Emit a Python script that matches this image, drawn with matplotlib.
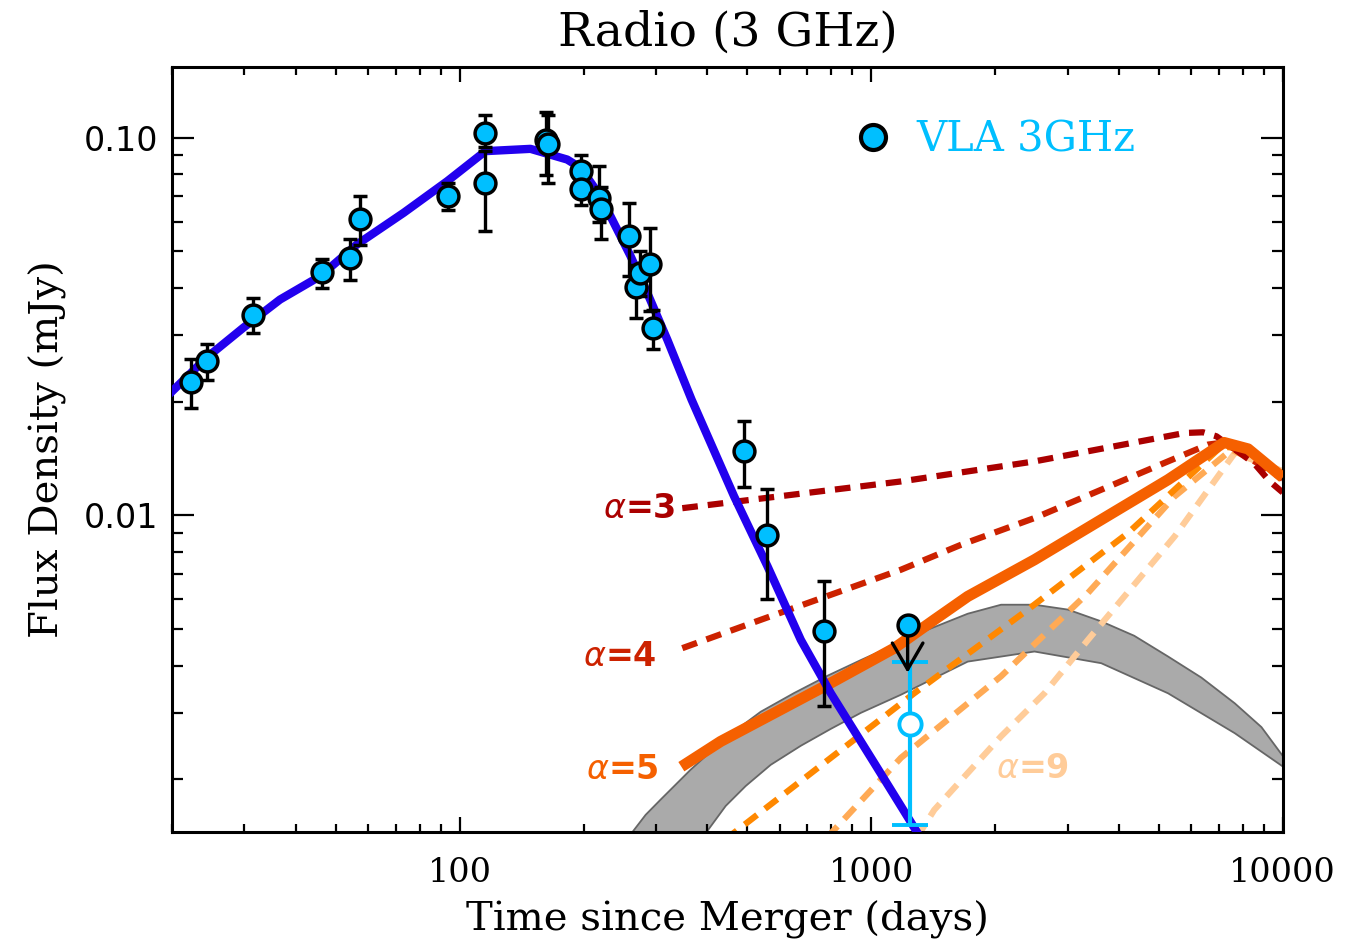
import numpy as np
import matplotlib
matplotlib.use('Agg')
import matplotlib.pyplot as plt
from matplotlib.ticker import LogLocator, NullFormatter, FuncFormatter
from matplotlib.lines import Line2D

# VLA 3 GHz meetpunten (dagen, mJy) met onder- en bovengrens van de foutbalk
t_obs = [22.3, 24.3, 31.4, 46.3, 54.2, 57.3, 93.5, 115.5, 115.5, 162, 164,
         197.2, 197.2, 217.8, 220.8, 257.6, 267.6, 274.2, 289.8, 294.9,
         491, 557, 768.6]
f_obs = [0.0225, 0.0257, 0.0340, 0.0441, 0.0481, 0.0611, 0.0700, 0.1031, 0.0757,
         0.0986, 0.0964, 0.0819, 0.0733, 0.0693, 0.0646, 0.0551, 0.0403, 0.0439,
         0.0464, 0.0313, 0.01484, 0.00889, 0.00493]
f_hi = [0.0260, 0.0285, 0.0377, 0.0479, 0.0541, 0.0700, 0.0757, 0.1148, 0.0922,
        0.1169, 0.1150, 0.0903, 0.0810, 0.0840, 0.0740, 0.0671, 0.0460, 0.0500,
        0.0577, 0.0349, 0.01773, 0.01172, 0.0067]
f_lo = [0.0193, 0.0228, 0.0304, 0.0400, 0.0421, 0.0519, 0.0643, 0.0947, 0.0566,
        0.0795, 0.0760, 0.0740, 0.0662, 0.0600, 0.0540, 0.0430, 0.0333, 0.0380,
        0.0347, 0.0276, 0.01187, 0.005995, 0.00312]

# bovengrens (pijl) en het open punt
t_ul, f_ul, f_ul_tip = 1226, 0.00511, 0.00383
t_open, f_open, f_open_lo, f_open_hi = 1240, 0.00281, 0.00151, 0.0041

# model (blauwe lijn)
t_mod = [20, 24.3, 29.8, 36.6, 45.8, 56.3, 73.1, 93.2, 115.5, 148.6, 182.5, 196.6,
         219.9, 237, 260.2, 285.8, 319.6, 366, 464.4, 559.8, 674.5, 797.7, 1017, 1297]
f_mod = [0.0213, 0.0262, 0.0314, 0.0373, 0.0430, 0.0522, 0.0633, 0.0767, 0.0922,
         0.0935, 0.0876, 0.0833, 0.0700, 0.0595, 0.0486, 0.0388, 0.0292, 0.02026,
         0.01123, 0.00733, 0.00468, 0.00338, 0.00221, 0.00144]

# alpha-curves
t_a3 = [347.5, 1181, 2493, 5776, 6400, 6900, 8504, 9299, 10000]
f_a3 = [0.01045, 0.0123, 0.0139, 0.01653, 0.0166, 0.0162, 0.01377, 0.0123, 0.0115]
t_a4 = [347.5, 539, 1181, 1653, 2493, 5262, 6584, 7200, 10000]
f_a4 = [0.00445, 0.00529, 0.00718, 0.00836, 0.00984, 0.0139, 0.0154, 0.0156, 0.0125]
t_a5 = [345.7, 430.8, 783.4, 1137.6, 1423, 1716, 2493, 3622, 5262, 7200, 8237, 10000]
f_a5 = [0.00216, 0.00252, 0.00356, 0.00445, 0.00529, 0.0061, 0.00763, 0.00974,
        0.01243, 0.0156, 0.0150, 0.0126]
t_a6 = [440, 1272, 2402, 4205, 7095, 8000, 10000]
f_a6 = [0.00138, 0.00338, 0.00563, 0.00898, 0.01524, 0.0150, 0.0128]
t_a7 = [780, 1181, 2068, 3362, 5461, 7507, 10000]
f_a7 = [0.0014, 0.00228, 0.00375, 0.00623, 0.01123, 0.01493, 0.0129]
t_a9 = [1290, 1423, 2068, 2636, 3362, 5461, 7645, 10000]
f_a9 = [0.00140, 0.00166, 0.0026, 0.00338, 0.00468, 0.0088, 0.01463, 0.0131]

# grijze band (boven- en onderrand)
t_band_hi = [250, 283, 307.8, 364, 447.3, 539, 649.4, 783, 944, 1372, 1716, 2068,
             2493, 3006, 3622, 4355, 5262, 6340, 7643, 8875, 10020]
f_band_hi = [0.00135, 0.00161, 0.001767, 0.00212, 0.002597, 0.00302, 0.003384,
             0.003761, 0.004139, 0.00498, 0.00549, 0.0058, 0.0058, 0.00563, 0.00524,
             0.0048, 0.00423, 0.00372, 0.00318, 0.00275, 0.0023]
t_band_lo = [385, 443, 495.5, 570, 674.5, 798, 944, 1181, 1716, 2493, 3622, 5262,
             7643, 10020]
f_band_lo = [0.00138, 0.0017, 0.00192, 0.002185, 0.002454, 0.002721, 0.003, 0.00335,
             0.0041, 0.00436, 0.00406, 0.00338, 0.00265, 0.00216]

lichtblauw = '#00BFFF'
serif = 'DejaVu Serif'

fig = plt.figure(figsize=(13.48, 9.44), dpi=100)
ax = fig.add_axes([0.1276, 0.1186, 0.824, 0.8104])

# band
px = t_band_hi + t_band_lo[::-1]
py = f_band_hi + f_band_lo[::-1]
ax.fill(px, py, facecolor='#AAAAAA', edgecolor='#666666', linewidth=1.3, zorder=1)

# alpha-lijnen
streep = (0, (2.5, 1.6))
ax.plot(t_a9, f_a9, ls=streep, color='#FFCC99', lw=4.5, zorder=2)
ax.plot(t_a7, f_a7, ls=streep, color='#FFAA55', lw=4.5, zorder=2)
ax.plot(t_a6, f_a6, ls=streep, color='#FF8800', lw=4.5, zorder=2)
ax.plot(t_a4, f_a4, ls=streep, color='#CC2200', lw=4.5, zorder=2)
ax.plot(t_a3, f_a3, ls=streep, color='#AA0000', lw=4.5, zorder=2)
ax.plot(t_a5, f_a5, color='#F56000', lw=8, zorder=3, solid_capstyle='butt')

# model
ax.plot(t_mod, f_mod, color='#2200EE', lw=6, zorder=4)

# meetpunten
f_obs_a = np.array(f_obs)
yerr = [f_obs_a - np.array(f_lo), np.array(f_hi) - f_obs_a]
ax.errorbar(t_obs, f_obs, yerr=yerr, fmt='o', ms=15, mfc=lichtblauw, mec='black',
            mew=2.5, ecolor='black', elinewidth=2.4, capsize=5, capthick=2.6, zorder=6)

# open punt met lichtblauwe foutbalk
ax.errorbar([t_open], [f_open], yerr=[[f_open - f_open_lo], [f_open_hi - f_open]],
            fmt='o', ms=16, mfc='white', mec=lichtblauw, mew=2.8, ecolor=lichtblauw,
            elinewidth=3, capsize=13, capthick=4, zorder=5)

# bovengrens
ax.annotate('', xy=(t_ul, f_ul_tip), xytext=(t_ul, f_ul),
            arrowprops=dict(arrowstyle='->,head_length=1.9,head_width=1.1',
                            color='black', lw=2.4, shrinkA=0, shrinkB=0), zorder=6)
ax.plot([t_ul], [f_ul], 'o', ms=15, mfc=lichtblauw, mec='black', mew=2.5, zorder=7)

# labels bij de curves
kw = dict(fontsize=24, fontweight='bold', va='center')
ax.text(335, 0.0104, r'$\alpha$=3', color='#AA0000', ha='right', **kw)
ax.text(301, 0.00422, r'$\alpha$=4', color='#CC2200', ha='right', **kw)
ax.text(304, 0.00212, r'$\alpha$=5', color='#F56000', ha='right', **kw)
ax.text(2011, 0.00214, r'$\alpha$=9', color='#FFCC99', ha='left', **kw)

ax.set_xscale('log')
ax.set_yscale('log')
ax.set_xlim(20, 10000)
ax.set_ylim(0.00145, 0.154)

ax.yaxis.set_major_locator(LogLocator(base=10, numticks=10))
ax.yaxis.set_minor_locator(LogLocator(base=10, subs=np.arange(2, 10), numticks=20))
ax.yaxis.set_major_formatter(FuncFormatter(lambda v, p: '%.2f' % v))
ax.yaxis.set_minor_formatter(NullFormatter())
ax.xaxis.set_major_formatter(FuncFormatter(lambda v, p: '%d' % v))
ax.xaxis.set_minor_formatter(NullFormatter())

ax.tick_params(which='both', direction='in', top=True, right=True, width=1.6,
               labelsize=24)
ax.tick_params(axis='y', which='major', length=16, pad=10)
ax.tick_params(axis='y', which='minor', length=8)
ax.tick_params(axis='x', which='major', length=11, pad=18, labelfontfamily=serif)
ax.tick_params(axis='x', which='minor', length=5.5)
for s in ax.spines.values():
    s.set_linewidth(2.2)

ax.set_title('Radio (3 GHz)', fontsize=34, family=serif, pad=15)
ax.set_xlabel('Time since Merger (days)', fontsize=29, family=serif, labelpad=8)
ax.set_ylabel('Flux Density (mJy)', fontsize=29, family=serif, labelpad=12)

# legenda
handle = Line2D([], [], ls='none', marker='o', ms=18, mfc=lichtblauw, mec='black', mew=3)
ax.legend([handle], ['VLA 3GHz'], loc='center left', bbox_to_anchor=(0.612, 0.905),
          frameon=False, borderpad=0, borderaxespad=0, handlelength=1,
          handletextpad=0.55, labelcolor=lichtblauw,
          prop={'family': serif, 'size': 30})

plt.savefig('out.png', dpi=100)
